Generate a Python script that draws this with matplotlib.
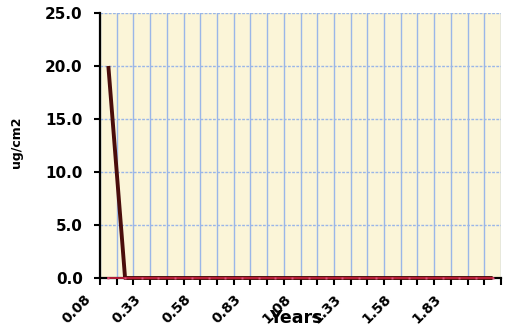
import numpy as np
import matplotlib
matplotlib.use('Agg')
import matplotlib.pyplot as plt
import matplotlib.transforms as transforms

plt.rcParams['font.family'] = ['DejaVu Sans']

# monthly sample points, in years
years = ['0.08', '0.17', '0.25', '0.33', '0.42', '0.50', '0.58', '0.67',
         '0.75', '0.83', '0.92', '1.00', '1.08', '1.17', '1.25', '1.33',
         '1.42', '1.50', '1.58', '1.67', '1.75', '1.83', '1.92', '2.00']
series_a = [20.0, 0.0, 0.0, 0.0, 0.0, 0.0, 0.0, 0.0, 0.0, 0.0, 0.0, 0.0,
            0.0, 0.0, 0.0, 0.0, 0.0, 0.0, 0.0, 0.0, 0.0, 0.0, 0.0, 0.0]
series_b = [0.0, 0.0, 0.0, 0.0, 0.0, 0.0, 0.0, 0.0, 0.0, 0.0, 0.0, 0.0,
            0.0, 0.0, 0.0, 0.0, 0.0, 0.0, 0.0, 0.0, 0.0, 0.0, 0.0, 0.0]
y_ticks = [0, 5, 10, 15, 20, 25]
label_every = 3

fig = plt.figure(figsize=(5.07, 3.27), dpi=100)
ax = fig.add_axes([100 / 507, 49 / 327, 401 / 507, 265 / 327])
ax.set_facecolor('#fbf5d8')

n = len(years)
x = np.arange(n) + 0.5

ax.plot(x, series_a, color='#4a0d0b', lw=2.8, solid_capstyle='butt',
        zorder=6, clip_on=False)
ax.plot(x, series_b, color='#c4203c', lw=1.3, zorder=7, clip_on=False,
        marker='s', ms=2, mfc='#e0507a', mec='none')

ax.set_xlim(0, n)
ax.set_ylim(0, 25)

# category boundaries carry the ticks and vertical grid
ax.set_xticks(np.arange(n + 1))
ax.set_xticklabels([])
ax.set_xticks(x[::label_every], minor=True)
ax.set_xticklabels(years[::label_every], minor=True, rotation=45,
                   ha='right', va='top', fontsize=10, fontweight='bold')
ax.tick_params(axis='x', which='major', direction='out', length=5,
               width=1.5, color='black')
ax.tick_params(axis='x', which='minor', length=0, pad=10)
shift = transforms.ScaledTranslation(-15 / 100, 0, fig.dpi_scale_trans)
for lbl in ax.get_xticklabels(minor=True):
    lbl.set_transform(lbl.get_transform() + shift)

ax.set_yticks(y_ticks)
ax.set_yticklabels(['%.1f' % v for v in y_ticks], fontsize=11,
                   fontweight='bold')
ax.tick_params(axis='y', direction='out', length=4.5, width=1.5, pad=8)

ax.grid(axis='x', color='#9ab6e8', lw=1.0, ls='-', zorder=1)
ax.grid(axis='y', color='#9ab6e8', lw=1.0, ls=(0, (2, 1)), zorder=1)
ax.set_axisbelow(True)

for side in ['top', 'right']:
    ax.spines[side].set_visible(False)
for side in ['left', 'bottom']:
    ax.spines[side].set_linewidth(1.6)
    ax.spines[side].set_color('black')
    ax.spines[side].set_zorder(5)

fig.text(17 / 507, 1 - 142 / 327, 'ug/cm2', rotation=90, ha='center',
         va='center', fontsize=9, fontweight='bold')
fig.text(296 / 507, 1 - 318 / 327, 'Years', ha='center', va='center',
         fontsize=12.5, fontweight='bold')

fig.savefig('out.png', dpi=100)
